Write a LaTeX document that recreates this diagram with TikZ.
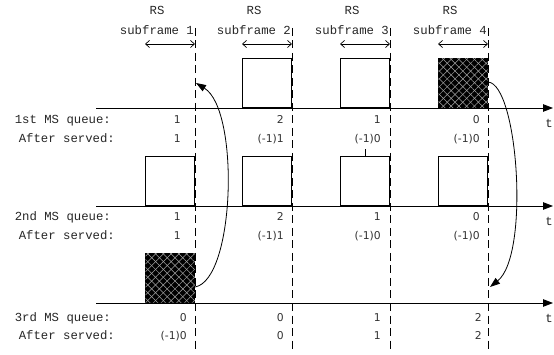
\documentclass[tikz,border=0pt]{standalone}
\usepackage{fontspec}
\newfontfamily\lblfont{Liberation Mono}
\newfontfamily\numfont{DejaVu Sans}
\usetikzlibrary{arrows.meta,patterns.meta}
\tikzset{
  lbl/.style={font=\lblfont\fontsize{12.3}{14}\selectfont, inner sep=0pt, text=black!85},
  num/.style={font=\numfont\fontsize{10.8}{12}\selectfont, inner sep=0pt, anchor=base east, text=black!80},
  axisline/.style={line width=0.9pt, -{Triangle[length=10pt,width=7.5pt]}},
  sfline/.style={line width=0.8pt, dash pattern=on 8pt off 4.5pt},
  slot/.style={draw, line width=0.8pt, minimum width=49pt, minimum height=49pt, inner sep=0pt, anchor=south east},
  hatched/.style={slot, fill=black, postaction={pattern={Lines[angle=45,distance=5.5pt,line width=0.5pt]}, pattern color=gray!70}, postaction={pattern={Lines[angle=-45,distance=5.5pt,line width=0.5pt]}, pattern color=gray!70}},
  span/.style={line width=0.7pt, {Straight Barb[length=4pt,width=7pt]}-{Straight Barb[length=4pt,width=7pt]}},
  curvearrow/.style={line width=0.8pt, -{Triangle[length=10pt,width=7pt]}},
}
\begin{document}
\begin{tikzpicture}[x=1pt,y=-1pt]
\useasboundingbox (0,0) rectangle (554,355);
% dashed subframe boundaries
\foreach \i/\x in {1/195,2/292,3/390,4/488}{
  \coordinate (dt\i) at (\x,28);
  \coordinate (db\i) at (\x,352);
  \draw[sfline] (dt\i) -- (db\i);
  \coordinate (sl\i) at (\x-50,44);
  \coordinate (sr\i) at (\x,44);
  \draw[span] (sl\i) -- (sr\i);
  \node[lbl, anchor=base] (rs\i) at (\x-38,15) {RS};
  \node[lbl, anchor=base east] (sf\i) at (\x-1,35) {subframe \i};
}
% axes
\foreach \k/\y in {1/108,2/206,3/303}{
  \coordinate (as\k) at (96,\y);
  \coordinate (ae\k) at (553,\y);
  \draw[axisline] (as\k) -- (ae\k);
  \node[lbl, anchor=base] (t\k) at (549,\y+20) {t};
}
% boxes row 1
\node[slot] (b12) at (292,108) {};
\node[slot] (b13) at (390,108) {};
\node[hatched] (b14) at (488,108) {};
% boxes row 2
\node[slot] (b21) at (195,206) {};
\node[slot] (b22) at (292,206) {};
\node[slot] (b23) at (390,206) {};
\node[slot] (b24) at (488,206) {};
\coordinate (tk) at (365,149);
\draw[line width=0.8pt] (b23.north -| tk) -- (tk);
% boxes row 3
\node[hatched] (b31) at (195,303) {};
% row labels
\node[lbl, anchor=base east] (q1) at (111,124) {1st MS queue:};
\node[lbl, anchor=base east] (f1) at (115,143) {After served:};
\node[lbl, anchor=base east] (q2) at (111,221) {2nd MS queue:};
\node[lbl, anchor=base east] (f2) at (115,240) {After served:};
\node[lbl, anchor=base east] (q3) at (111,321) {3rd MS queue:};
\node[lbl, anchor=base east] (f3) at (115,339) {After served:};
% numbers row 1
\node[num] (n11) at (181,124) {1};
\node[num] (m11) at (181,143) {1};
\node[num] (n12) at (284,124) {2};
\node[num] (m12) at (284,143) {(-1)1};
\node[num] (n13) at (381,124) {1};
\node[num] (m13) at (381,143) {(-1)0};
\node[num] (n14) at (480,124) {0};
\node[num] (m14) at (480,143) {(-1)0};
% numbers row 2
\node[num] (n21) at (181,221) {1};
\node[num] (m21) at (181,240) {1};
\node[num] (n22) at (284,221) {2};
\node[num] (m22) at (284,240) {(-1)1};
\node[num] (n23) at (381,221) {1};
\node[num] (m23) at (381,240) {(-1)0};
\node[num] (n24) at (480,221) {0};
\node[num] (m24) at (480,240) {(-1)0};
% numbers row 3
\node[num] (n31) at (187,321) {0};
\node[num] (m31) at (187,339) {(-1)0};
\node[num] (n32) at (284,321) {0};
\node[num] (m32) at (284,339) {0};
\node[num] (n33) at (381,321) {1};
\node[num] (m33) at (381,339) {1};
\node[num] (n34) at (482,321) {2};
\node[num] (m34) at (482,339) {2};
% curved arrows
\coordinate (c1s) at (195,287);
\coordinate (c1e) at (196,83);
\draw[curvearrow] (c1s) .. controls (235,280) and (240,110) .. (c1e);
\coordinate (c2s) at (488,82);
\coordinate (c2e) at (490,287);
\draw[curvearrow] (c2s) .. controls (518,84) and (530,255) .. (c2e);
\end{tikzpicture}
\end{document}
